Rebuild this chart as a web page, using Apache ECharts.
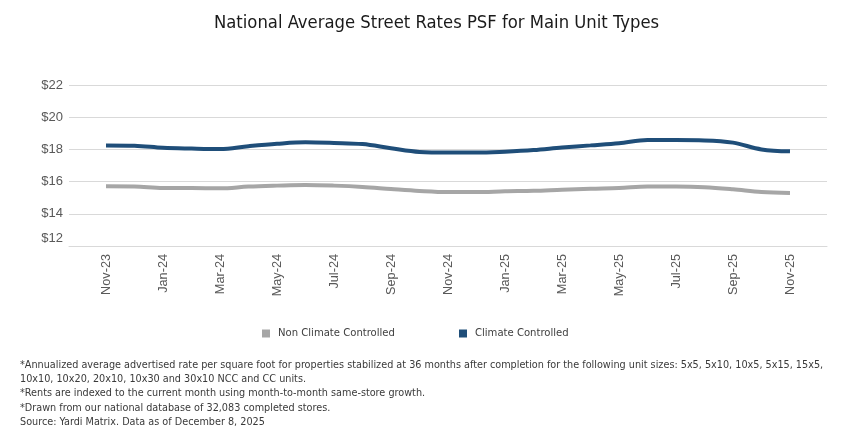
<!DOCTYPE html>
<html>
<head>
<meta charset="utf-8">
<script src="https://cdn.jsdelivr.net/npm/echarts@6/dist/echarts.min.js"></script>
<style>
html,body{margin:0;padding:0;background:#fff;}
#chart{width:842px;height:448px;}
</style>
</head>
<body>
<div id="chart"></div>
<script>
var months = ['Nov-23','Dec-23','Jan-24','Feb-24','Mar-24','Apr-24','May-24','Jun-24','Jul-24','Aug-24','Sep-24','Oct-24','Nov-24','Dec-24','Jan-25','Feb-25','Mar-25','Apr-25','May-25','Jun-25','Jul-25','Aug-25','Sep-25','Oct-25','Nov-25'];
var nonClimate = [15.71,15.70,15.60,15.60,15.58,15.69,15.75,15.79,15.75,15.67,15.54,15.42,15.35,15.35,15.40,15.43,15.50,15.56,15.60,15.69,15.69,15.65,15.52,15.35,15.29];
var climate = [18.25,18.23,18.10,18.05,18.02,18.20,18.35,18.44,18.40,18.33,18.07,17.84,17.80,17.80,17.86,17.96,18.12,18.25,18.38,18.58,18.58,18.56,18.42,18.00,17.88];
var seriesNames = ['Non Climate Controlled','Climate Controlled'];
var titleText = 'National Average Street Rates PSF for Main Unit Types';
var footnotes = [
  '*Annualized average advertised rate per square foot for properties stabilized at 36 months after completion for the following unit sizes: 5x5, 5x10, 10x5, 5x15, 15x5,',
  '10x10, 10x20, 20x10, 10x30 and 30x10 NCC and CC units.',
  '*Rents are indexed to the current month using month-to-month same-store growth.',
  '*Drawn from our national database of 32,083 completed stores.',
  'Source: Yardi Matrix. Data as of December 8, 2025'
];

var narrow = "'DejaVu Sans Condensed','Liberation Sans Narrow',sans-serif";
var axisFont = "'Liberation Sans',Arial,sans-serif";

var chart = echarts.init(document.getElementById('chart'), null, {renderer:'canvas'});

var graphics = [{
  type:'text', x:436.5, y:23,
  style:{text:titleText, fill:'#1a1a1a', font:'18.3px ' + narrow, textAlign:'center', textVerticalAlign:'middle'}
}];
var fy = [365, 379, 393.5, 408, 422.5];
footnotes.forEach(function(t, i){
  graphics.push({type:'text', x:20, y:fy[i], style:{text:t, fill:'#3a3a3a', font:'10.75px ' + narrow, textAlign:'left', textVerticalAlign:'middle'}});
});

var option = {
  backgroundColor:'#ffffff',
  animation:false,
  graphic: graphics,
  legend:[
    {data:[seriesNames[0]], left:257, top:323, icon:'rect', itemWidth:8, itemHeight:8, itemGap:10,
     textStyle:{fontFamily:narrow, fontSize:11.2, color:'#404040', padding:[0,0,0,3]}},
    {data:[seriesNames[1]], left:454, top:323, icon:'rect', itemWidth:8, itemHeight:8, itemGap:10,
     textStyle:{fontFamily:narrow, fontSize:11.2, color:'#404040', padding:[0,0,0,3]}}
  ],
  grid:[
    {left:69, right:15, top:85, bottom:202},
    {left:106, right:52, top:85, bottom:202}
  ],
  xAxis:[
    {type:'category', gridIndex:0, data:months, show:true,
     axisLine:{show:true, lineStyle:{color:'#d9d9d9', width:1}}, axisTick:{show:false}, axisLabel:{show:false}},
    {type:'category', gridIndex:1, data:months, boundaryGap:false,
     axisLine:{show:false}, axisTick:{show:false},
     axisLabel:{interval:1, rotate:90, margin:8, color:'#595959', fontSize:12.7, fontFamily:axisFont}}
  ],
  yAxis:[
    {type:'value', gridIndex:0, min:12, max:22, interval:2,
     axisLine:{show:false}, axisTick:{show:false},
     splitLine:{show:true, lineStyle:{color:'#d9d9d9', width:1}},
     axisLabel:{margin:6, color:'#595959', fontSize:13, fontFamily:axisFont,
       formatter:function(v){ return v === 12 ? '{lo|$' + v + '}' : '$' + v; },
       rich:{lo:{padding:[0,0,16,0], color:'#595959', fontSize:13, fontFamily:axisFont}}}},
    {type:'value', gridIndex:1, min:12, max:22, interval:2, show:false, splitLine:{show:false}}
  ],
  series:[
    {name:seriesNames[0], type:'line', xAxisIndex:1, yAxisIndex:1, data:nonClimate, smooth:0.35,
     symbol:'none', color:'#a6a6a6', lineStyle:{width:4, color:'#a6a6a6'}},
    {name:seriesNames[1], type:'line', xAxisIndex:1, yAxisIndex:1, data:climate, smooth:0.35,
     symbol:'none', color:'#1f4e79', lineStyle:{width:4, color:'#1f4e79'}}
  ]
};
chart.setOption(option);
</script>
</body>
</html>
